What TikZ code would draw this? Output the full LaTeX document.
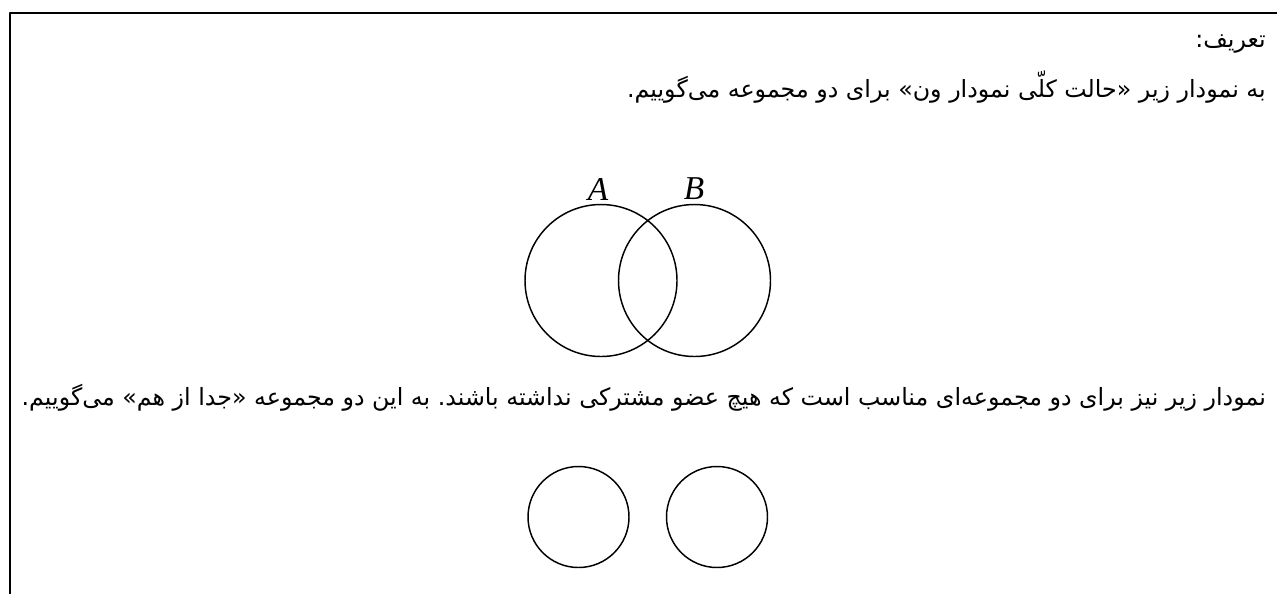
\documentclass[tikz,border=0pt]{standalone}
\usepackage{fontspec}
\usepackage{tikz}
\newfontfamily\arabicfont[Script=Arabic]{DejaVu Sans}
\newfontfamily\latinfont{Liberation Serif}
\TeXXeTstate=1
\frenchspacing

\begin{document}
\begin{tikzpicture}[x=0.75pt,y=-0.75pt,line join=round]
  \useasboundingbox (0,0) rectangle (1277,594);
  \tikzset{
    fatext/.style={anchor=base east,inner sep=0pt,font=\arabicfont\fontsize{17.8}{22}\selectfont},
    setlabel/.style={inner sep=0pt,font=\latinfont\itshape\fontsize{25}{30}\selectfont},
    setline/.style={line width=1.1pt}
  }
  % frame
  \coordinate (TL) at (10,13);
  \coordinate (TR) at (1277,13);
  \coordinate (BL) at (10,594);
  \draw[line width=1.5pt] (TR) -- (TL) -- (BL);
  % texts
  \node[fatext] (T1) at (1266,47) {\beginR تعریف:\endR};
  \node[fatext] (T2) at (1266,97) {\beginR به نمودار زیر «حالت کلّی نمودار ون» برای دو مجموعه می‌گوییم.\endR};
  \node[fatext] (T3) at (1266,405) {\beginR نمودار زیر نیز برای دو مجموعه‌ای مناسب است که هیچ عضو مشترکی نداشته باشند. به این دو مجموعه «جدا از هم» می‌گوییم.\endR};
  % general venn diagram
  \coordinate (CA) at (601,280.5);
  \coordinate (CB) at (694.5,280.5);
  \draw[setline] (CA) circle[radius=76];
  \draw[setline] (CB) circle[radius=76];
  \node[setlabel] (LA) at (598,189) {A};
  \node[setlabel] (LB) at (694,189) {B};
  % disjoint sets
  \coordinate (DA) at (578.5,517);
  \coordinate (DB) at (717,517);
  \draw[setline] (DA) circle[radius=50.5];
  \draw[setline] (DB) circle[radius=50.5];
\end{tikzpicture}
\end{document}
